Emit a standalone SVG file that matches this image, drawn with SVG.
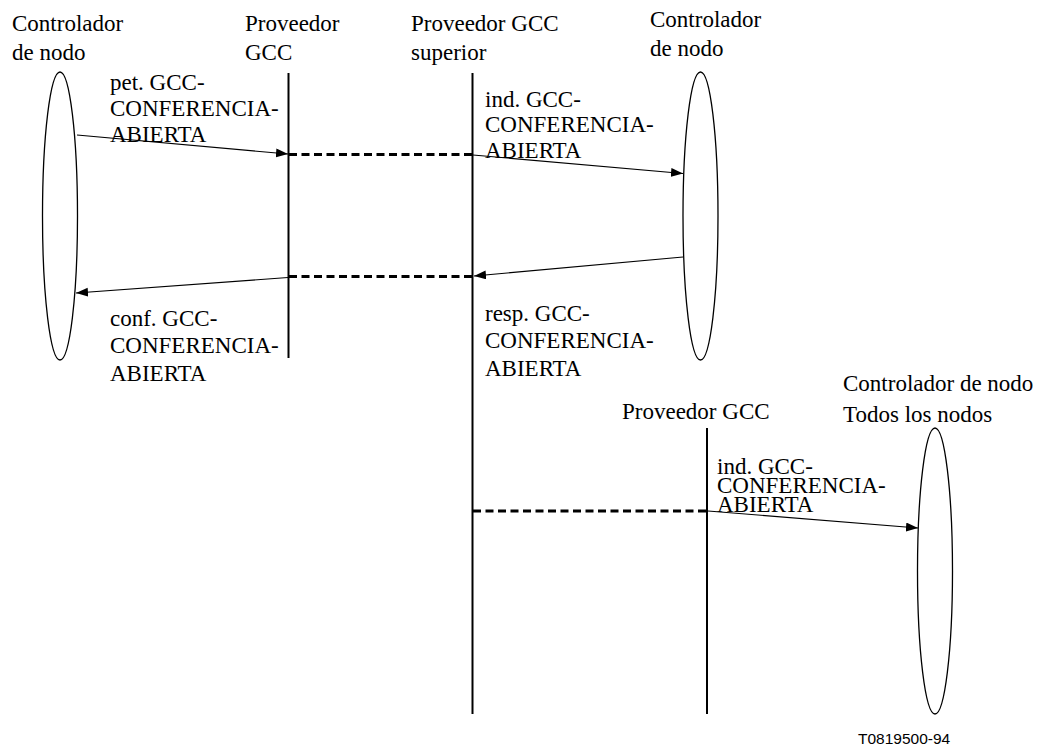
<svg xmlns="http://www.w3.org/2000/svg" width="1042" height="746" viewBox="0 0 1042 746">
<defs>
<marker id="ah" markerUnits="userSpaceOnUse" markerWidth="13" markerHeight="10" refX="12" refY="4.5" orient="auto">
<path d="M0,0 L12,4.5 L0,9 z" fill="#000"/>
</marker>
</defs>
<rect width="1042" height="746" fill="#fff"/>
<g id="nodo1">
<ellipse cx="60" cy="216" rx="17.5" ry="144" fill="#fff" stroke="#000" stroke-width="1.3"/>
<text x="12" y="31" font-family="Times New Roman, Liberation Serif, serif" font-size="23">Controlador</text>
<text x="12" y="60" font-family="Times New Roman, Liberation Serif, serif" font-size="23">de nodo</text>
</g>
<g id="proveedor1">
<line x1="288.5" y1="73" x2="288.5" y2="358" stroke="#000" stroke-width="2"/>
<text x="245" y="31" font-family="Times New Roman, Liberation Serif, serif" font-size="23">Proveedor</text>
<text x="245" y="60" font-family="Times New Roman, Liberation Serif, serif" font-size="23">GCC</text>
</g>
<g id="superior">
<line x1="472.5" y1="73" x2="472.5" y2="714" stroke="#000" stroke-width="2"/>
<text x="411" y="31" font-family="Times New Roman, Liberation Serif, serif" font-size="23">Proveedor GCC</text>
<text x="411" y="60" font-family="Times New Roman, Liberation Serif, serif" font-size="23">superior</text>
</g>
<g id="nodo2">
<ellipse cx="700.5" cy="216" rx="17.5" ry="144" fill="#fff" stroke="#000" stroke-width="1.3"/>
<text x="650" y="27" font-family="Times New Roman, Liberation Serif, serif" font-size="23">Controlador</text>
<text x="650" y="56" font-family="Times New Roman, Liberation Serif, serif" font-size="23">de nodo</text>
</g>
<g id="proveedor2">
<line x1="707" y1="428" x2="707" y2="714" stroke="#000" stroke-width="2"/>
<text x="622" y="419" font-family="Times New Roman, Liberation Serif, serif" font-size="23">Proveedor GCC</text>
</g>
<g id="nodos">
<ellipse cx="935" cy="571" rx="17.5" ry="143" fill="#fff" stroke="#000" stroke-width="1.3"/>
<text x="843" y="391" font-family="Times New Roman, Liberation Serif, serif" font-size="23">Controlador de nodo</text>
<text x="843" y="422" font-family="Times New Roman, Liberation Serif, serif" font-size="23">Todos los nodos</text>
</g>
<g id="connectors" stroke="#000" fill="none">
<g stroke-width="3" stroke-dasharray="8 4.5">
<line x1="289" y1="154.5" x2="472" y2="154.5"/>
<line x1="289" y1="276.5" x2="472" y2="276.5"/>
<line x1="473" y1="511" x2="707" y2="511"/>
</g>
<g stroke-width="1.1" marker-end="url(#ah)">
<line x1="77" y1="135" x2="288" y2="154"/>
<line x1="473" y1="155" x2="683" y2="173.5"/>
<line x1="683" y1="257" x2="474" y2="276"/>
<line x1="288" y1="277.5" x2="76" y2="293"/>
<line x1="708" y1="511" x2="918" y2="528"/>
</g>
</g>
<g id="labels">
<text x="110" y="90" font-family="Times New Roman, Liberation Serif, serif" font-size="23">pet. GCC-</text>
<text x="110" y="116" font-family="Times New Roman, Liberation Serif, serif" font-size="23">CONFERENCIA-</text>
<text x="110" y="142" font-family="Times New Roman, Liberation Serif, serif" font-size="23">ABIERTA</text>
<text x="485" y="107" font-family="Times New Roman, Liberation Serif, serif" font-size="23">ind. GCC-</text>
<text x="485" y="132" font-family="Times New Roman, Liberation Serif, serif" font-size="23">CONFERENCIA-</text>
<text x="485" y="158" font-family="Times New Roman, Liberation Serif, serif" font-size="23">ABIERTA</text>
<text x="110" y="326" font-family="Times New Roman, Liberation Serif, serif" font-size="23">conf. GCC-</text>
<text x="110" y="353" font-family="Times New Roman, Liberation Serif, serif" font-size="23">CONFERENCIA-</text>
<text x="110" y="381" font-family="Times New Roman, Liberation Serif, serif" font-size="23">ABIERTA</text>
<text x="485" y="321" font-family="Times New Roman, Liberation Serif, serif" font-size="23">resp. GCC-</text>
<text x="485" y="348" font-family="Times New Roman, Liberation Serif, serif" font-size="23">CONFERENCIA-</text>
<text x="485" y="376" font-family="Times New Roman, Liberation Serif, serif" font-size="23">ABIERTA</text>
<text x="717" y="474" font-family="Times New Roman, Liberation Serif, serif" font-size="23">ind. GCC-</text>
<text x="717" y="493" font-family="Times New Roman, Liberation Serif, serif" font-size="23">CONFERENCIA-</text>
<text x="717" y="512" font-family="Times New Roman, Liberation Serif, serif" font-size="23">ABIERTA</text>
</g>
<text x="858" y="744" font-family="Liberation Sans, Arial, sans-serif" font-size="15.5">T0819500-94</text>
</svg>
